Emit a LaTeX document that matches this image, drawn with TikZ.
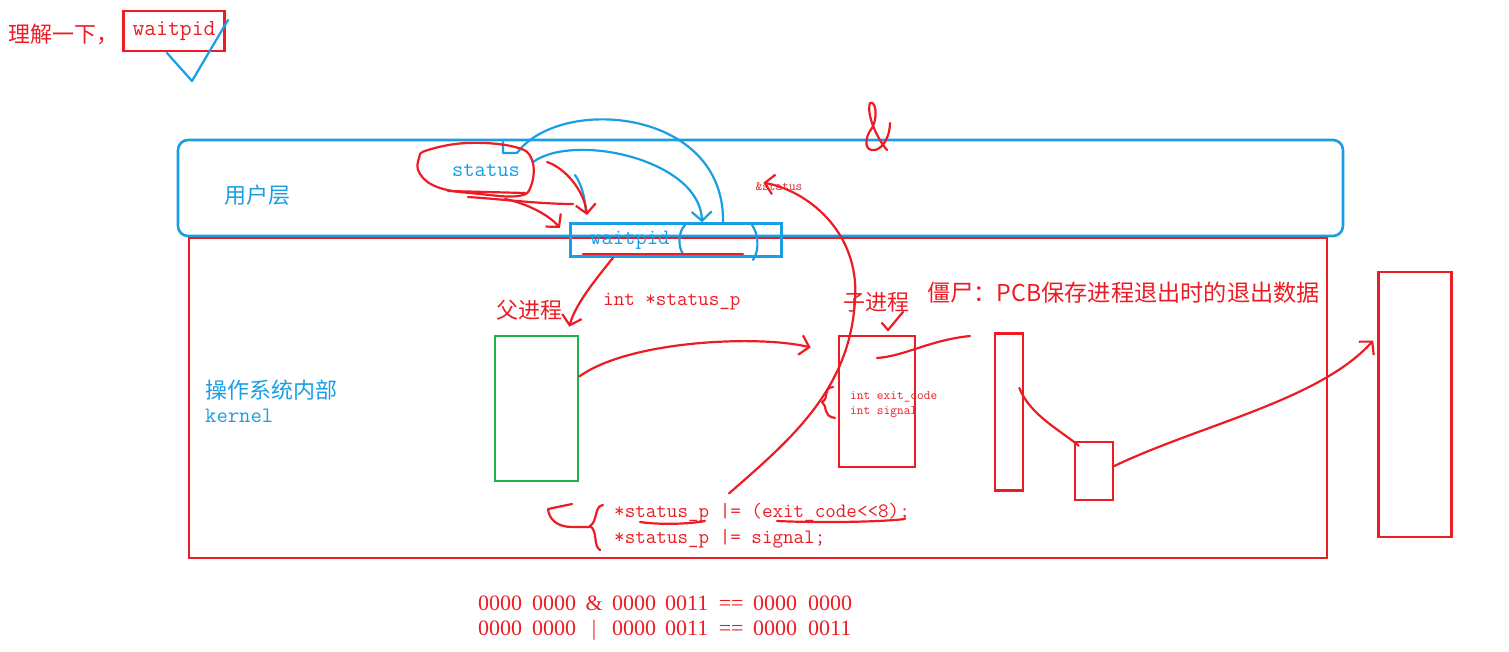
\documentclass[tikz,border=0pt]{standalone}
\usepackage{fontspec}
\setmainfont{Liberation Serif}
\newfontfamily\cjk{Noto Sans CJK SC}
\usetikzlibrary{arrows.meta, positioning, calc}
\definecolor{pred}{RGB}{237,28,36}
\definecolor{pblue}{RGB}{25,158,228}
\definecolor{pgreen}{RGB}{34,177,76}
\newcommand{\grp}[2]{\makebox[#1][l]{#2}}

\begin{document}
\begin{tikzpicture}[x=1pt, y=-1pt, every node/.style={inner sep=0pt}]
    	\tikzstyle{rb}=[draw=pred,line width=2.6pt]
    	\tikzstyle{bb}=[draw=pblue,line width=2.6pt]
    	\tikzstyle{rp}=[pred,line width=2.2pt,line cap=round,line join=round]
    	\tikzstyle{bp}=[pblue,line width=2.2pt,line cap=round,line join=round]
    	\tikzstyle{hd}=[-{Straight Barb[length=9pt,width=20pt]}]
    	\tikzstyle{zh}=[font=\cjk\fontsize{22}{26}\selectfont]
    	\tikzstyle{tt}=[font=\ttfamily\fontsize{22}{26}\selectfont]
    	\tikzstyle{tc}=[font=\ttfamily\fontsize{20.5}{26}\selectfont]
    	\tikzstyle{ts}=[font=\ttfamily\fontsize{13}{15}\selectfont]
    \useasboundingbox (0,0) rectangle (1509,651);
    % note in the corner
    \node[zh,text=pred,anchor=west] (hint) at (8,34) {理解一下，};
    \node[rb,font=\ttfamily\fontsize{23}{26}\selectfont,text=pred,minimum width=101pt,minimum height=40pt] (tl) at (174,31) {waitpid};
    \draw[bp] (167,53) -- (192,81) -- (228,20);
    % layers
    \node[bb,rounded corners=10pt,minimum width=1165pt,minimum height=96pt] (user) at (760.5,188) {};
    \node[rb,minimum width=1138pt,minimum height=320pt] (kern) at (758,398) {};
    \node[zh,text=pblue] (ulbl) at (257,195) {用户层};
    \node[zh,text=pblue,anchor=west] (klbl) at (205,390) {操作系统内部};
    \node[tt,text=pblue,below=8pt of klbl.south west,anchor=north west] (klbl2) {kernel};
    \node[bb,minimum width=211pt,minimum height=33pt] (wp) at (676,240) {};
    \node[tt,text=pblue,anchor=west] (wpt) at (590,240) {waitpid};
    \node[tt,text=pblue] (st) at (486,170) {status};
    \node[ts,text=pred] (amp) at (779,187) {\&status};
    % processes
    \node[draw=pgreen,line width=2.6pt,minimum width=83pt,minimum height=145pt] (par) at (536.5,408.5) {};
    \node[rb,minimum width=76pt,minimum height=131pt] (chl) at (877,401.5) {};
    \node[rb,minimum width=28pt,minimum height=157pt] (tall) at (1009,412) {};
    \node[rb,minimum width=38pt,minimum height=58pt] (small) at (1094,471) {};
    \node[rb,minimum width=73pt,minimum height=265pt] (big) at (1415,404.5) {};
    \node[zh,text=pred] (plbl) at (529,310) {父进程};
    \node[tc,text=pred,anchor=west] (sp) at (603,302) {int *status\_p};
    \node[zh,text=pred] (clbl) at (876,302) {子进程};
    \node[font=\cjk\fontsize{23.2}{26}\selectfont,text=pred,anchor=west] (zomb) at (927,293) {僵尸：PCB保存进程退出时的退出数据};
    \node[ts,text=pred,anchor=west] (ec) at (850,397) {int exit\_code};
    \node[ts,text=pred,below=4pt of ec.south west,anchor=north west] (sg) {int signal};
    \node[tc,text=pred,anchor=west] (c1) at (614,513) {*status\_p |= (exit\_code<<8);};
    \node[tc,text=pred,anchor=west] (c2) at (614,539) {*status\_p |= signal;};
    \node[font=\fontsize{22}{26}\selectfont,text=pred,anchor=west] (b1) at (478,603)
      {\grp{54pt}{0000}\grp{44pt}{0000}\makebox[36pt]{\&}\grp{53pt}{0000}\grp{44pt}{0011}\makebox[44pt]{==}\grp{55pt}{0000}0000};
    \node[font=\fontsize{22}{26}\selectfont,text=pred,anchor=west] (b2) at (478,630)
      {\grp{54pt}{0000}\grp{44pt}{0000}\makebox[36pt]{|}\grp{53pt}{0000}\grp{44pt}{0011}\makebox[44pt]{==}\grp{55pt}{0000}0011};
    % status -> waitpid
    \draw[bp] (503,142) -- (503,153) -- (517,153) .. controls +(43,-58) and +(2,-114) .. (wp.north -| 723,0);
    \draw[bp,hd] (533,162) .. controls (575,132) and (700,160) .. ([xshift=26pt]wp.north);
    \draw[bp] (575,175) .. controls (582,185) and (585,198) .. (586,213);
    \draw[rp] plot[smooth cycle,tension=0.7] coordinates {(428,150) (468,143) (515,147) (532,160) (531,186) (518,196) (480,194) (440,188) (420,174) (419,158)};
    \draw[rp] (448,191) -- (525,193);
    \draw[rp] (468,197) .. controls (500,199) and (540,204) .. (573,204);
    \draw[rp,hd] (505,199) .. controls (525,203) and (548,214) .. (560,228);
    \draw[rp,hd] (547,162) .. controls (565,168) and (584,190) .. (587,215);
    \draw[bp] (685,225) .. controls (678,232) and (678,247) .. (683,254);
    \draw[bp] (752,225) .. controls (758,233) and (760,250) .. (753,260);
    \draw[rp] (583,254) -- (743,254);
    % waitpid -> parent, parent -> child
    \draw[rp,hd] ([xshift=-63pt]wp.south) .. controls (595,280) and (575,305) .. ([xshift=-10pt,yshift=8pt]par.north east);
    \draw[rp,hd] ([yshift=32pt]par.east) .. controls (630,340) and (760,335) .. ([xshift=-27pt,yshift=54pt]chl.west);
    \draw[rp] (882,323) -- (888,330) -- (903,312);
    \draw[rp] (877,358) .. controls (905,356) and (930,340) .. (970,336);
    \draw[rp] (833,387) .. controls (822,388) and (830,398) .. (822,402) .. controls (828,406) and (822,416) .. (835,418);
    % zombie chain
    \draw[rp] ([xshift=-5pt,yshift=24pt]tall.east) .. controls (1030,415) and (1060,430) .. ([xshift=5pt,yshift=-5pt]small.north west);
    \draw[rp,hd] ([yshift=5pt]small.east) .. controls (1200,425) and (1320,400) .. ([xshift=-4pt,yshift=64pt]big.west);
    % code -> &status
    \draw[rp] (603,505) .. controls (594,506) and (598,521) .. (590,526) .. controls (598,531) and (593,546) .. (600,550);
    \draw[rp] (590,527) -- (572,527) .. controls (558,527) and (549,520) .. (548,509) -- (572,504);
    \draw[rp] (640,522) .. controls (660,525) and (690,524) .. (705,521);
    \draw[rp] (777,521) .. controls (820,523) and (880,522) .. (905,519);
    \draw[rp,hd] ([xshift=-33pt,yshift=10pt]c1.north) .. controls (790,440) and (850,390) .. (855,300) .. controls (860,230) and (805,190) .. ([xshift=8pt]amp.north west);
    \draw[rp] (887,150) .. controls (878,140) and (866,115) .. (870,103) .. controls (876,100) and (878,118) .. (872,128) .. controls (864,138) and (864,152) .. (875,150) .. controls (884,148) and (890,135) .. (890,123);
  \end{tikzpicture}
\end{document}
